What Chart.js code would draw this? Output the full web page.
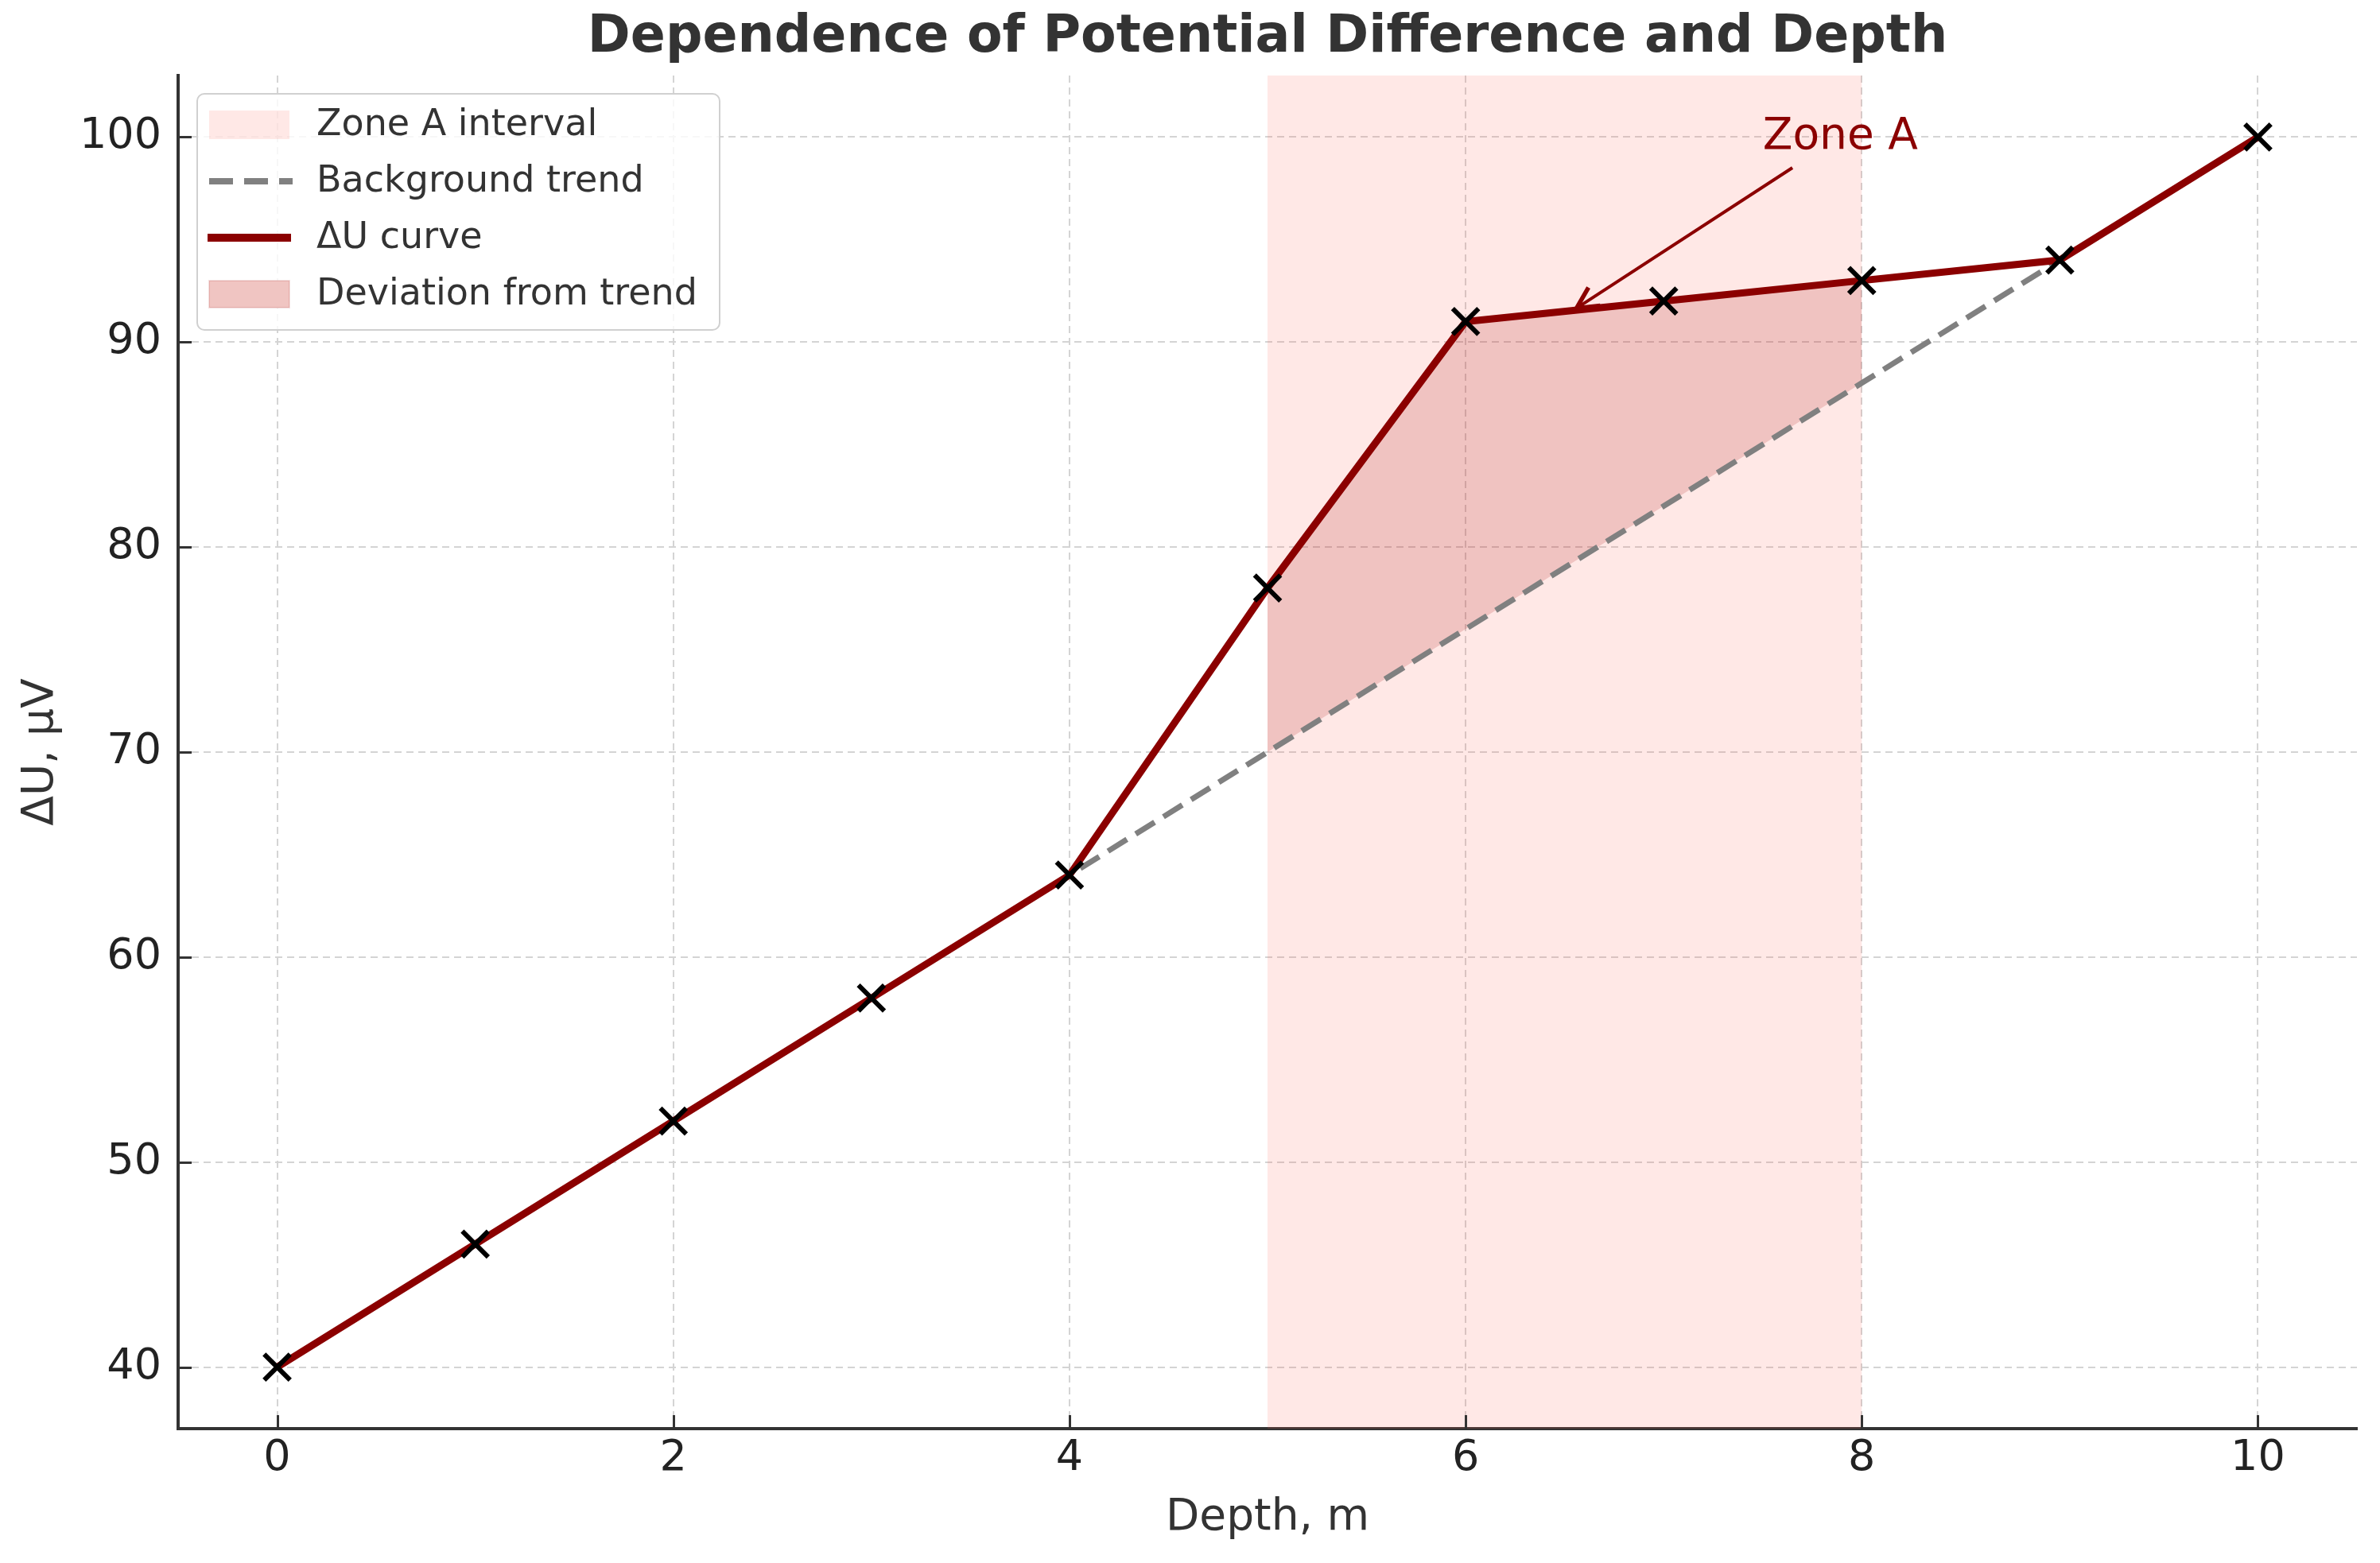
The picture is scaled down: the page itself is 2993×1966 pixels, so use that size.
<!DOCTYPE html>
<html>
<head>
<meta charset="utf-8">
<script src="https://cdn.jsdelivr.net/npm/chart.js@4.4.1/dist/chart.umd.min.js"></script>
<style>
  html, body { margin: 0; padding: 0; background: #fff; }
  #wrap { width: 2993px; height: 1966px; }
</style>
</head>
<body>
<div id="wrap"><canvas id="potentialChart" width="2993" height="1966"></canvas></div>
<script>
const depth = [0, 1, 2, 3, 4, 5, 6, 7, 8, 9, 10];
const deltaU = [40, 46, 52, 58, 64, 78, 91, 92, 93, 94, 100];
const trend = [40, 46, 52, 58, 64, 70, 76, 82, 88, 94, 100];

const zoneA = [5, 8];
const xTickValues = [0, 2, 4, 6, 8, 10];
const yTickValues = [40, 50, 60, 70, 80, 90, 100];

const legendLabels = ["Zone A interval", "Background trend", "ΔU curve", "Deviation from trend"];
const zoneLabel = "Zone A";
const zoneLabelAt = [7.5, 100.0];
const arrowFrom = [7.65, 98.5];
const arrowTo = [6.56, 91.65];

const FONT = "'DejaVu Sans', 'Liberation Sans', sans-serif";
const DARK_RED = "#8b0000";
const ZONE_FILL = "rgba(252, 100, 85, 0.15)";
const DEV_FILL = "rgba(160, 0, 0, 0.16)";

function toPoints(xs, ys) {
  return xs.map((x, i) => ({ x: x, y: ys[i] }));
}

// part of the curve that sits inside zone A
const zoneIdx = depth.map((d, i) => i).filter(i => depth[i] >= zoneA[0] && depth[i] <= zoneA[1]);
const zoneDepth = zoneIdx.map(i => depth[i]);
const zoneCurve = zoneIdx.map(i => deltaU[i]);
const zoneTrend = zoneIdx.map(i => trend[i]);

const decorPlugin = {
  id: "decor",
  beforeDatasetsDraw(chart) {
    const { ctx, chartArea, scales } = chart;
    const x0 = scales.x.getPixelForValue(zoneA[0]);
    const x1 = scales.x.getPixelForValue(zoneA[1]);
    ctx.save();
    ctx.fillStyle = ZONE_FILL;
    ctx.fillRect(x0, chartArea.top, x1 - x0, chartArea.bottom - chartArea.top);
    ctx.restore();
  },
  afterDatasetsDraw(chart) {
    const { ctx, chartArea, scales } = chart;
    const xs = scales.x;
    const ys = scales.y;

    // inward tick marks
    ctx.save();
    ctx.strokeStyle = "#333";
    ctx.lineWidth = 3;
    xTickValues.forEach(v => {
      const px = Math.round(xs.getPixelForValue(v)) + 0.5;
      ctx.beginPath();
      ctx.moveTo(px, chartArea.bottom);
      ctx.lineTo(px, chartArea.bottom - 17);
      ctx.stroke();
    });
    yTickValues.forEach(v => {
      const py = Math.round(ys.getPixelForValue(v)) + 0.5;
      ctx.beginPath();
      ctx.moveTo(chartArea.left, py);
      ctx.lineTo(chartArea.left + 17, py);
      ctx.stroke();
    });
    ctx.restore();

    // Zone A annotation
    ctx.save();
    ctx.fillStyle = DARK_RED;
    ctx.font = "55px " + FONT;
    ctx.textAlign = "left";
    ctx.textBaseline = "middle";
    ctx.fillText(zoneLabel, xs.getPixelForValue(zoneLabelAt[0]), ys.getPixelForValue(zoneLabelAt[1]));

    const ax = xs.getPixelForValue(arrowFrom[0]);
    const ay = ys.getPixelForValue(arrowFrom[1]);
    const bx = xs.getPixelForValue(arrowTo[0]);
    const by = ys.getPixelForValue(arrowTo[1]);
    const ang = Math.atan2(by - ay, bx - ax);
    ctx.strokeStyle = DARK_RED;
    ctx.lineWidth = 4;
    ctx.lineCap = "butt";
    ctx.beginPath();
    ctx.moveTo(ax, ay);
    ctx.lineTo(bx, by);
    ctx.stroke();
    const head = 30;
    ctx.lineWidth = 5.5;
    ctx.lineJoin = "miter";
    ctx.beginPath();
    ctx.moveTo(bx - head * Math.cos(ang - 0.47), by - head * Math.sin(ang - 0.47));
    ctx.lineTo(bx, by);
    ctx.lineTo(bx - head * Math.cos(ang + 0.47), by - head * Math.sin(ang + 0.47));
    ctx.stroke();
    ctx.restore();
  },
  afterDraw(chart) {
    const { ctx } = chart;
    // legend box in the upper left of the axes
    const left = 248, top = 118, w = 657, h = 297;
    ctx.save();
    ctx.beginPath();
    ctx.roundRect(left, top, w, h, 9);
    ctx.fillStyle = "rgba(255, 255, 255, 0.8)";
    ctx.fill();
    ctx.strokeStyle = "#d0d0d0";
    ctx.lineWidth = 2;
    ctx.stroke();

    const rowY = [157, 228, 299, 370];
    const hx0 = 263, hx1 = 364;

    // Zone A interval patch
    ctx.fillStyle = ZONE_FILL;
    ctx.fillRect(hx0, rowY[0] - 18, hx1 - hx0, 36);

    // Background trend
    ctx.strokeStyle = "#808080";
    ctx.lineWidth = 8;
    ctx.setLineDash([30, 14]);
    ctx.beginPath();
    ctx.moveTo(hx0, rowY[1]);
    ctx.lineTo(hx1 + 4, rowY[1]);
    ctx.stroke();
    ctx.setLineDash([]);

    // ΔU curve
    ctx.strokeStyle = DARK_RED;
    ctx.lineWidth = 10;
    ctx.beginPath();
    ctx.moveTo(hx0 - 2, rowY[2]);
    ctx.lineTo(hx1 + 2, rowY[2]);
    ctx.stroke();

    // Deviation patch
    ctx.fillStyle = "rgba(255, 235, 232, 1)";
    ctx.fillRect(hx0, rowY[3] - 17, hx1 - hx0, 34);
    ctx.fillStyle = DEV_FILL;
    ctx.fillRect(hx0, rowY[3] - 17, hx1 - hx0, 34);
    ctx.strokeStyle = "rgba(160, 0, 0, 0.12)";
    ctx.lineWidth = 2;
    ctx.strokeRect(hx0, rowY[3] - 17, hx1 - hx0, 34);

    ctx.fillStyle = "#333";
    ctx.font = "46px " + FONT;
    ctx.textAlign = "left";
    ctx.textBaseline = "middle";
    legendLabels.forEach((label, i) => {
      ctx.fillText(label, 398, rowY[i] + 1);
    });
    ctx.restore();
  }
};

const ctx = document.getElementById("potentialChart");

new Chart(ctx, {
  type: "line",
  data: {
    datasets: [
      {
        label: "ΔU curve",
        data: toPoints(depth, deltaU),
        borderColor: DARK_RED,
        borderWidth: 9,
        pointStyle: "crossRot",
        pointRadius: 23,
        pointBorderWidth: 6,
        pointBorderColor: "#000",
        pointBackgroundColor: "#000",
        tension: 0,
        fill: false,
        order: 0
      },
      {
        label: "Background trend",
        data: toPoints(depth, trend),
        borderColor: "#808080",
        borderWidth: 7,
        borderDash: [28, 13],
        pointRadius: 0,
        tension: 0,
        fill: false,
        order: 1
      },
      {
        label: "Deviation from trend",
        data: toPoints(zoneDepth, zoneCurve),
        borderWidth: 0,
        borderColor: "rgba(0,0,0,0)",
        backgroundColor: DEV_FILL,
        pointRadius: 0,
        tension: 0,
        fill: 3,
        order: 2
      },
      {
        label: "trend in zone",
        data: toPoints(zoneDepth, zoneTrend),
        borderWidth: 0,
        borderColor: "rgba(0,0,0,0)",
        pointRadius: 0,
        tension: 0,
        fill: false,
        order: 3
      }
    ]
  },
  options: {
    responsive: false,
    animation: false,
    devicePixelRatio: 1,
    layout: { padding: { left: 0, right: 22, top: 0, bottom: 0 } },
    plugins: {
      legend: { display: false },
      tooltip: { enabled: false },
      title: {
        display: true,
        fullSize: false,
        text: "Dependence of Potential Difference and Depth",
        color: "#333",
        font: { family: FONT, size: 65, weight: "bold" },
        padding: { top: 9, bottom: 8 }
      }
    },
    scales: {
      x: {
        type: "linear",
        min: -0.5,
        max: 10.5,
        afterFit: scale => { scale.height = 169; },
        afterBuildTicks: scale => { scale.ticks = xTickValues.map(v => ({ value: v })); },
        ticks: {
          color: "#222",
          font: { family: FONT, size: 54 },
          padding: 6,
          maxRotation: 0
        },
        grid: { color: "#d4d4d4", lineWidth: 2, drawTicks: false },
        border: { display: true, color: "#333", width: 4, dash: [9, 6] },
        title: {
          display: true,
          text: "Depth, m",
          color: "#333",
          font: { family: FONT, size: 55 },
          padding: { top: 0, bottom: 23 }
        }
      },
      y: {
        type: "linear",
        min: 37,
        max: 103,
        afterFit: scale => { scale.width = 224; },
        afterBuildTicks: scale => { scale.ticks = yTickValues.map(v => ({ value: v })); },
        ticks: {
          color: "#222",
          font: { family: FONT, size: 54 },
          padding: 21
        },
        grid: { color: "#d4d4d4", lineWidth: 2, drawTicks: false },
        border: { display: true, color: "#333", width: 4, dash: [9, 6] },
        title: {
          display: true,
          text: "ΔU, μV",
          color: "#333",
          font: { family: FONT, size: 55 },
          padding: { top: 19, bottom: 0 }
        }
      }
    }
  },
  plugins: [decorPlugin]
});
</script>
</body>
</html>
